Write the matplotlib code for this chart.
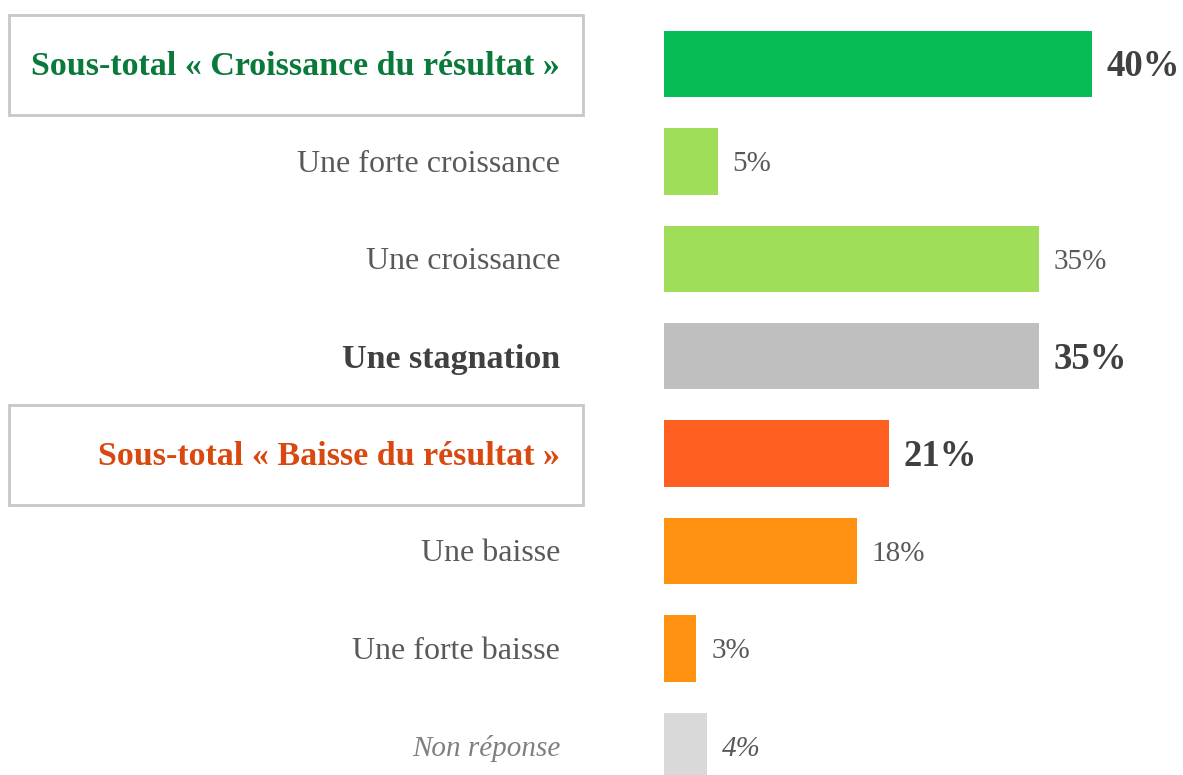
import matplotlib.pyplot as plt
from matplotlib.patches import Rectangle

labels = ["Sous-total « Croissance du résultat »", "Une forte croissance", "Une croissance",
          "Une stagnation", "Sous-total « Baisse du résultat »", "Une baisse",
          "Une forte baisse", "Non réponse"]
values = [40, 5, 35, 35, 21, 18, 3, 4]
bar_colors = ["#06BC57", "#A0DE5A", "#A0DE5A", "#BFBFBF", "#FF5F20", "#FF9311", "#FF9311", "#D9D9D9"]
label_colors = ["#0A7A3A", "#595959", "#595959", "#404040", "#D9480F", "#595959", "#595959", "#7F7F7F"]
bold_rows = [0, 3, 4]
boxed_rows = [0, 4]

plt.rcParams['font.family'] = ['Liberation Serif', 'DejaVu Serif']

W, H = 1183, 775
fig = plt.figure(figsize=(W / 100, H / 100), dpi=100)
x0 = 664      # pixel where bars start
pxu = 10.7    # pixels per percent
row0 = 64     # pixel centre of first row
step = 97.4   # pixels between rows
ax = fig.add_axes([x0 / W, 0, 1 - x0 / W, 1])
ax.set_xlim(0, (W - x0) / pxu)
ax.set_ylim((H - row0) / step, -row0 / step)
ax.axis('off')

rows = list(range(len(values)))
ax.barh(rows, values, height=0.68, color=bar_colors)

lab_x = (560 - x0) / pxu
dy = 0.03  # nudge text down a little
for i, (lab, v) in enumerate(zip(labels, values)):
    bold = i in bold_rows
    italic = i == len(values) - 1
    if bold:
        fs = 24.5
    elif italic:
        fs = 21
    else:
        fs = 23
    ax.text(lab_x, i + dy, lab, ha='right', va='center', fontsize=fs,
            fontweight='bold' if bold else 'normal',
            fontstyle='italic' if italic else 'normal',
            color=label_colors[i], clip_on=False)
    vcol = "#404040" if bold else "#595959"
    ax.text(v + 1.4, i + dy, f"{v}%", ha='left', va='center',
            fontsize=26.5 if bold else 21, fontweight='bold' if bold else 'normal',
            fontstyle='italic' if italic else 'normal', color=vcol, clip_on=False)

# framed boxes around the sub-total labels
for i in boxed_rows:
    yc = row0 + step * i
    h = 100
    fig.patches.append(Rectangle((9 / W, 1 - (yc + 1 + h / 2) / H), 574 / W, h / H,
                                 transform=fig.transFigure, fill=False,
                                 edgecolor="#C8C8C8", linewidth=2))

fig.savefig("out.png", dpi=100)
